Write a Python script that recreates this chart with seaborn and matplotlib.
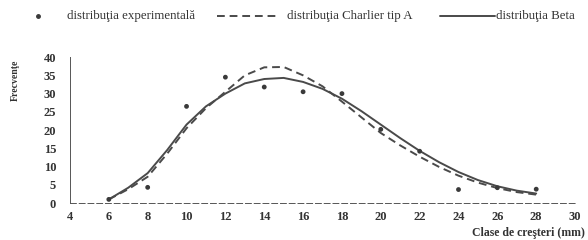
import numpy as np
import pandas as pd
import seaborn as sns
import matplotlib.pyplot as plt
from matplotlib.lines import Line2D

# clase de creşteri (mm) si frecvenţe
clase_exp = [6, 8, 10, 12, 14, 16, 18, 20, 22, 24, 26, 28]
frecv_exp = [1.0, 4.3, 26.5, 34.5, 31.8, 30.5, 30.0, 20.2, 14.2, 3.7, 4.2, 3.8]

clase_teor = list(range(6, 29))
frecv_charlier = [1.0, 3.8, 7.2, 13.5, 20.5, 26.0, 30.5, 35.0, 37.2, 37.3, 35.0, 32.0,
                  27.8, 23.5, 19.2, 15.8, 12.7, 9.9, 7.5, 5.6, 4.1, 3.0, 2.3]
frecv_beta = [1.0, 4.2, 8.2, 14.5, 21.5, 26.5, 30.0, 32.8, 34.0, 34.3, 33.2, 31.3,
              28.6, 25.2, 21.5, 17.8, 14.3, 11.2, 8.5, 6.3, 4.6, 3.4, 2.6]

x_ticks = [4, 6, 8, 10, 12, 14, 16, 18, 20, 22, 24, 26, 28, 30]
y_ticks = [0, 5, 10, 15, 20, 25, 30, 35, 40]

sns.set_style("white")
plt.rcParams['font.family'] = ['Liberation Serif', 'DejaVu Serif']

df_exp = pd.DataFrame({'x': clase_exp, 'y': frecv_exp})
df_teor = pd.DataFrame({'x': clase_teor, 'charlier': frecv_charlier, 'beta': frecv_beta})

W, H = 588, 240
fig = plt.figure(figsize=(5.88, 2.4), dpi=100)
ax = fig.add_axes([0.119, 0.154, 0.859, 0.608])

culoare = '#4a4a4a'
linie_punctata = (0, (4, 2.5))
sns.lineplot(data=df_teor, x='x', y='charlier', ax=ax, color=culoare, lw=1.4,
             linestyle=linie_punctata)
sns.lineplot(data=df_teor, x='x', y='beta', ax=ax, color=culoare, lw=1.4)
sns.scatterplot(data=df_exp, x='x', y='y', ax=ax, color='#3a3a3a', s=12,
                marker='o', edgecolor='none', zorder=5)

ax.set_xlim(4, 30)
ax.set_ylim(0, 40)
ax.set_xticks(x_ticks)
ax.set_yticks(y_ticks)
ax.tick_params(axis='both', labelsize=9, colors='#333333')
ax.tick_params(axis='y', direction='in', length=2, width=0.6, pad=10)
ax.tick_params(axis='x', length=0, pad=6)
for lab in ax.get_xticklabels() + ax.get_yticklabels():
    lab.set_fontweight('bold')
ax.set_xlabel('')
ax.set_ylabel('')
for s in ['top', 'right']:
    ax.spines[s].set_visible(False)
ax.spines['left'].set_color('#555555')
ax.spines['left'].set_linewidth(0.7)
ax.spines['bottom'].set_color('#555555')
ax.spines['bottom'].set_linewidth(0.7)
ax.spines['bottom'].set_linestyle((0, (6, 3)))

fig.text(15 / W, 1 - 80 / H, 'Frecvenţe', rotation=90, ha='center', va='center',
         fontsize=7, fontweight='bold', color='#333333')
fig.text(585 / W, 1 - 233 / H, 'Clase de creşteri (mm)', ha='right', va='center',
         fontsize=8.5, fontweight='bold', color='#333333')

# legenda desenata manual (pozitii in pixeli din figura)
yl = 1 - 16 / H
fig.add_artist(Line2D([38 / W], [yl], marker='o', markersize=2.5, color='#3a3a3a',
                      transform=fig.transFigure))
fig.add_artist(Line2D([217 / W, 280 / W], [yl, yl], color=culoare, lw=1.4,
                      linestyle=linie_punctata, transform=fig.transFigure))
fig.add_artist(Line2D([440 / W, 495 / W], [yl, yl], color=culoare, lw=1.4,
                      transform=fig.transFigure))
texte = ['distribuţia experimentală', 'distribuţia Charlier tip A', 'distribuţia Beta']
pozitii = [67, 287, 496]
for t, px in zip(texte, pozitii):
    fig.text(px / W, yl, t, ha='left', va='center', fontsize=9.3, color='#333333')

fig.savefig('out.png', dpi=100)
